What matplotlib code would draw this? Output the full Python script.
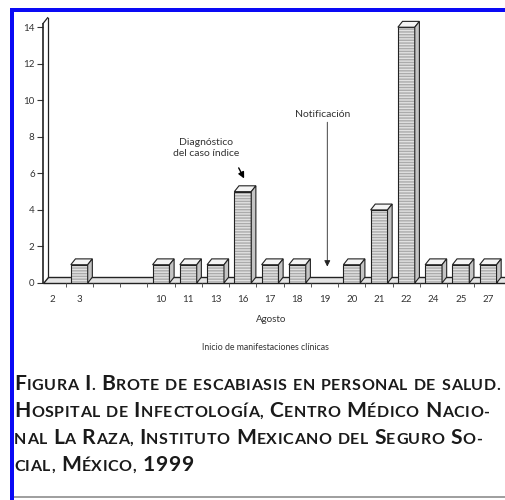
import numpy as np
import matplotlib
matplotlib.use("Agg")
import matplotlib.pyplot as plt
from matplotlib.patches import Rectangle, Polygon

# data
dias = ["2", "3", "10", "11", "13", "16", "17", "18", "19", "20", "21", "22", "24", "25", "27"]
slots = [0, 1, 4, 5, 6, 7, 8, 9, 10, 11, 12, 13, 14, 15, 16]   # gap for 4-9 Aug
casos = [0, 1, 1, 1, 1, 5, 1, 1, 0, 1, 4, 14, 1, 1, 1]
yticks = [0, 2, 4, 6, 8, 10, 12, 14]

caption = [
    "Figura I. Brote de escabiasis en personal de salud.",
    "Hospital de Infectología, Centro Médico Nacio-",
    "nal La Raza, Instituto Mexicano del Seguro So-",
    "cial, México, 1999",
]

FONT = ["Lato", "DejaVu Sans"]
W, H = 505, 500

fig = plt.figure(figsize=(W / 100, H / 100), dpi=100)
fig.patch.set_facecolor("white")

x0, x1 = -0.33, 16.62
y0, y1 = 0, 14.45
ax = fig.add_axes([43 / W, (H - 283) / H, (W - 43) / W, (283 - 19) / H])
ax.set_xlim(x0, x1)
ax.set_ylim(y0, y1)
ax.set_facecolor("none")
for s in ax.spines.values():
    s.set_visible(False)

dx, dy = 0.17, 0.32   # fake 3d depth
w = 0.62

# floor + wall
floor = Polygon([(x0, 0), (x1 + 1, 0), (x1 + 1, dy), (x0 + dx, dy)], closed=True,
                facecolor="#e4e4e4", edgecolor="#222222", lw=1.0, zorder=1, clip_on=False)
ax.add_patch(floor)
ax.plot([x0, x0], [0, 14.2], color="#222222", lw=1.2, zorder=2, clip_on=False)
ax.plot([x0 + dx, x0 + dx], [dy, 14.2 + dy], color="#222222", lw=0.9, zorder=2, clip_on=False)
ax.plot([x0, x0 + dx], [14.2, 14.2 + dy], color="#222222", lw=0.9, zorder=2, clip_on=False)

for i, v in zip(slots, casos):
    if v <= 0:
        continue
    l, r = i - w / 2, i + w / 2
    ax.add_patch(Rectangle((l, 0), w, v, facecolor="#e2e2e2", edgecolor="#ababab",
                           lw=0, hatch="------", zorder=3))
    ax.add_patch(Rectangle((l, 0), w, v, fill=False, edgecolor="#222222", lw=0.8, zorder=4))
    ax.add_patch(Polygon([(l, v), (r, v), (r + dx, v + dy), (l + dx, v + dy)], closed=True,
                         facecolor="#f4f4f4", edgecolor="#222222", lw=0.8, zorder=4))
    ax.add_patch(Polygon([(r, 0), (r + dx, dy), (r + dx, v + dy), (r, v)], closed=True,
                         facecolor="#c4c4c4", edgecolor="#222222", lw=0.8, zorder=4,
                         clip_on=False))

ax.set_yticks(yticks)
ax.set_yticklabels([str(t) for t in yticks], fontsize=7, family=FONT, color="#333333")
ax.tick_params(axis="y", length=4, width=0.8, color="#333333", pad=2)
ax.set_xticks(slots)
ax.set_xticklabels(dias, fontsize=7, family=FONT, color="#333333")
ax.set_xticks(np.arange(0.5, 16.5, 1), minor=True)
ax.tick_params(axis="x", which="major", length=0, pad=9)
ax.tick_params(axis="x", which="minor", length=3, width=0.7, color="#555555")

# annotations
ax.text(5.65, 7.4, "Diagnóstico\ndel caso índice", ha="center", va="center",
        fontsize=7.5, family=FONT, color="#333333", linespacing=1.35)
ax.annotate("", xy=(7.05, 5.72), xytext=(6.85, 6.3),
            arrowprops=dict(arrowstyle="-|>", color="black", lw=1.0, mutation_scale=9,
                            shrinkA=0, shrinkB=0))
ax.text(9.94, 9.2, "Notificación", ha="center", va="center",
        fontsize=7.5, family=FONT, color="#333333")
ax.annotate("", xy=(10.1, 0.9), xytext=(10.1, 8.8),
            arrowprops=dict(arrowstyle="-|>", color="#222222", lw=0.6, mutation_scale=9,
                            shrinkA=0, shrinkB=0))

fig.text(271 / W, 1 - 319 / H, "Agosto", ha="center", va="center",
         fontsize=7, family=FONT, color="#333333")
fig.text(265 / W, 1 - 347 / H, "Inicio de manifestaciones clínicas", ha="center",
         va="center", fontsize=6.3, family=FONT, color="#333333")

# small caps caption
renderer = fig.canvas.get_renderer()


def runs(s):
    out = []
    for ch in s:
        if ch == " ":
            k = "space"
        elif ch.isupper() or ch.isdigit():
            k = "big"
        else:
            k = "small"
        if out and out[-1][0] == k:
            out[-1][1] += ch
        else:
            out.append([k, ch])
    return out


def text_w(s, size):
    t = fig.text(0, 0, s, fontsize=size, fontweight="bold", family=FONT)
    ww = t.get_window_extent(renderer).width
    t.remove()
    return ww


def put_line(y, s, big, small, xs=14, track=0.6, draw=True):
    sp = text_w("I I", small) - text_w("II", small)
    x = xs
    for k, chunk in runs(s):
        if k == "space":
            x += sp * len(chunk) + 1.5
            continue
        size = big if k == "big" else small
        for ch in chunk.upper():
            t = fig.text(x / W, 1 - y / H, ch, fontsize=size, fontweight="bold",
                         family=FONT, color="#1a1a1a", ha="left", va="baseline")
            x += t.get_window_extent(renderer).width + track
            if not draw:
                t.remove()
    return x - xs


big, small = 10.5, 8.0
scale = (503 - 14) / put_line(0, caption[1], big, small, draw=False)
big, small = big * scale, small * scale
for y, line in zip([390, 417, 444, 471], caption):
    put_line(y, line, big, small)

# frame of the scanned page
fig.patches.append(Rectangle((10 / W, 1 - 12 / H), (W - 10) / W, 3.5 / H,
                             transform=fig.transFigure, facecolor="#0a0af5", edgecolor="none"))
fig.patches.append(Rectangle((10 / W, 0), 3.5 / W, (H - 8.5) / H,
                             transform=fig.transFigure, facecolor="#0a0af5", edgecolor="none"))
fig.patches.append(Rectangle((13.5 / W, 1 - 498 / H), (W - 13) / W, 2 / H,
                             transform=fig.transFigure, facecolor="#a0a0a0", edgecolor="none"))

fig.savefig("out.png", dpi=100)
